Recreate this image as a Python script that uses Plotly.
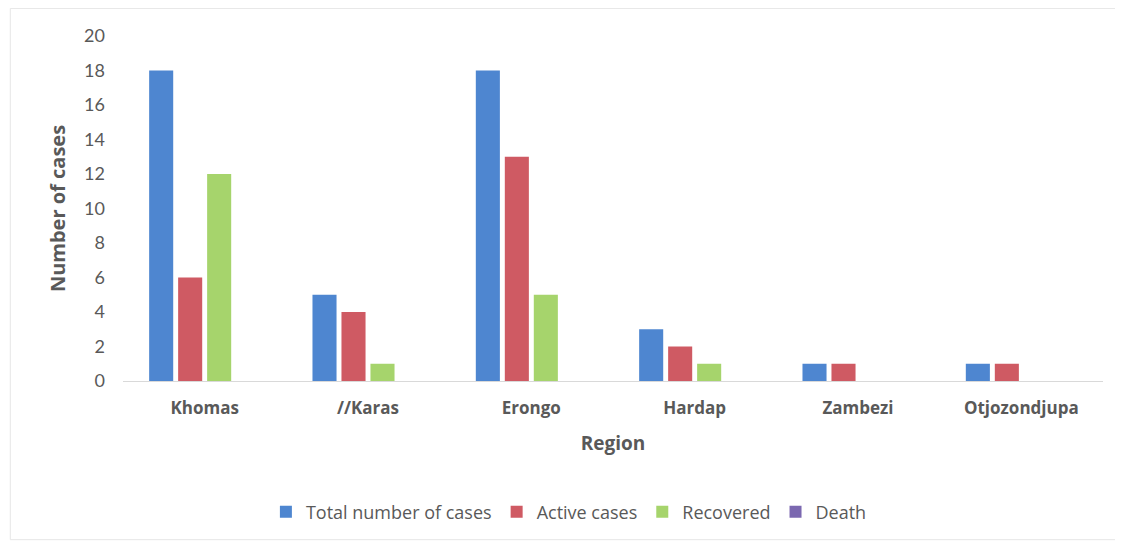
import plotly.graph_objects as go

regions = ["Khomas", "//Karas", "Erongo", "Hardap", "Zambezi", "Otjozondjupa"]
total_cases = [18, 5, 18, 3, 1, 1]
active_cases = [6, 4, 13, 2, 1, 1]
recovered = [12, 1, 5, 1, 0, 0]
death = [0, 0, 0, 0, 0, 0]

series = [
    ("Total number of cases", total_cases, "#4e86d0"),
    ("Active cases", active_cases, "#cf5a63"),
    ("Recovered", recovered, "#a6d46c"),
    ("Death", death, "#7b68b0"),
]

fig = go.Figure()
for name, vals, col in series:
    fig.add_trace(go.Bar(x=regions, y=vals, name=name, marker=dict(color=col, line=dict(width=0))))

gray = "#595959"
fig.update_layout(
    width=1115, height=534,
    paper_bgcolor="white", plot_bgcolor="white",
    margin=dict(l=115, r=20, t=28, b=161),
    barmode="group", bargap=0.29, bargroupgap=0.17,
    font=dict(family="Lato, Open Sans, sans-serif", color=gray),
    showlegend=True,
    legend=dict(orientation="h", x=0.455, xanchor="center", y=-0.38, yanchor="middle",
                font=dict(size=18, color=gray, family="Open Sans"), itemwidth=30, traceorder="normal"),
    xaxis=dict(showline=True, linecolor="#d9d9d9", linewidth=1, ticks="",
               tickfont=dict(size=17, color=gray, weight="bold", family="Open Sans"), ticklabelstandoff=12,
               title=dict(text="Region", font=dict(size=19, color=gray, weight="bold", family="Open Sans"),
                          standoff=18)),
    yaxis=dict(range=[0, 20], dtick=2, showgrid=False, zeroline=False, showline=False,
               tickfont=dict(size=18, color=gray), ticklabelstandoff=17,
               title=dict(text="Number of cases", font=dict(size=20, color=gray, weight="bold", family="Open Sans"),
                          standoff=13)),
    shapes=[dict(type="rect", xref="paper", yref="paper", x0=-0.115, x1=1.03, y0=-0.46, y1=1.08,
                 line=dict(color="#e6e6e6", width=1))],
)

fig.write_html("out.html")
